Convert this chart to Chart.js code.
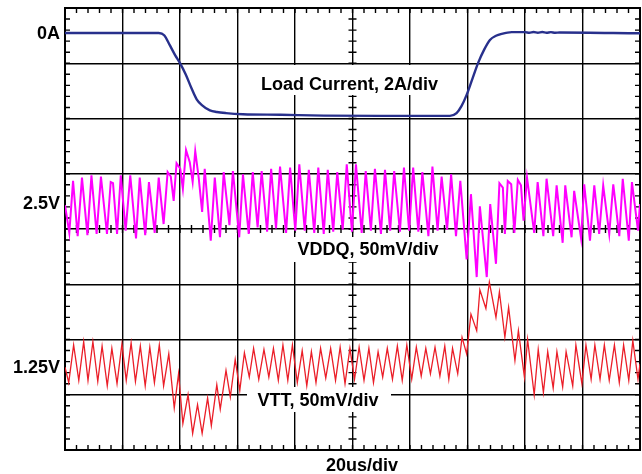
<!DOCTYPE html>
<html>
<head>
<meta charset="utf-8">
<script src="https://cdn.jsdelivr.net/npm/chart.js@4"></script>
<style>
    html, body { margin: 0; padding: 0; background: #fff; }
    #wrap { width: 642px; height: 474px; }
</style>
</head>
<body>
<div id="wrap"><canvas id="scopeChart"></canvas></div>
<script>
// time base: 20us/div, 10 divisions
const loadTimeUs = [0, 32.6, 34.5, 36.5, 38.3, 40.0, 42.0, 44.0, 45.8, 47.5, 50.4, 52.8, 56.0, 61.9, 75.0, 90.0, 110.0,
    133.9, 136.2, 137.9, 139.7, 141.7, 143.7, 145.8, 147.8, 149.9, 151.9, 155.4, 160.0, 161.5, 163.0, 164.5, 166.0,
    167.5, 169.0, 170.5, 172.0, 200];
const loadAmps = [0, 0, -0.08, -0.45, -0.8, -1.09, -1.5, -2.0, -2.4, -2.6, -2.8, -2.86, -2.9, -2.94, -2.96, -2.99, -3.0,
    -3.0, -2.9, -2.65, -2.24, -1.66, -1.08, -0.6, -0.25, -0.1, -0.03, 0.03, 0.03, 0.01, 0.035, 0.01, 0.035,
    0.01, 0.03, 0.01, 0.02, -0.01];

const vddqTimeUs = [0, 1.5, 2.8, 4.4, 5.9, 7.8, 9.2, 11.0, 12.5, 14.6, 15.9, 16.7, 18.1, 19.4, 21.1, 22.7, 24.7, 26.0,
    27.9, 29.2, 31.2, 32.6, 34.3, 35.7, 36.8, 37.8, 38.8, 40.1, 41.0, 42.1, 43.4, 44.4, 45.3, 46.5, 47.7, 48.6, 50.7,
    52.1, 53.9, 55.2, 57.2, 58.4, 60.6, 61.9, 63.9, 65.3,
    67.0, 68.4, 70.3, 71.7, 73.4, 74.8, 76.9, 78.3, 80.1, 81.5, 83.4, 84.8, 86.7, 88.1, 90.0, 91.4, 93.3, 94.7, 96.6,
    98.0, 99.8, 101.2, 103.2, 104.6, 106.4, 107.8, 109.9, 111.3, 113.1, 114.5, 116.5, 117.9, 119.7, 121.1, 122.9,
    124.3, 126.4, 127.8, 129.6, 131.0,
    132.9, 134.3, 136.0, 137.5, 139.7, 141.2, 143.2, 144.3, 146.7, 147.9, 149.9, 151.1, 152.3, 153.0, 154.0, 155.2,
    156.3, 157.5, 158.6, 159.5, 160.7, 163.2, 164.4, 166.4, 167.5, 169.8, 171.0, 173.1, 174.0, 176.2, 177.1, 179.5,
    180.6, 182.6, 184.1, 185.8, 187.2, 189.3, 190.7, 192.8, 194.0, 196.1, 197.2, 199.3, 200];
const vddqMv = [2498, 2473, 2520, 2470, 2523, 2471, 2525, 2472, 2524, 2472, 2519, 2518, 2472, 2525, 2475, 2525, 2468, 2523,
    2471, 2519, 2473, 2523, 2481, 2528, 2524, 2502, 2536, 2531, 2513, 2548, 2537, 2519, 2547, 2523, 2492, 2531, 2466,
    2523, 2469, 2528, 2480, 2529, 2469, 2526, 2472, 2528,
    2478, 2529, 2474, 2531, 2477, 2533, 2473, 2532, 2475, 2535, 2475, 2530, 2473, 2532, 2472, 2530, 2474, 2528, 2476,
    2535, 2474, 2535, 2473, 2529, 2475, 2531, 2472, 2530, 2475, 2529, 2474, 2532, 2475, 2532, 2474,
    2528, 2470, 2533, 2475, 2524,
    2476, 2526, 2470, 2520, 2449, 2508, 2433, 2497, 2433, 2499, 2445, 2518, 2514, 2472, 2520, 2517,
    2473, 2521, 2516, 2484, 2523, 2473, 2519, 2470, 2522, 2470, 2516, 2464, 2516, 2469, 2511, 2468,
    2517, 2466, 2516, 2472, 2516, 2472, 2517, 2470, 2522, 2466, 2519, 2475, 2499];

const vttTimeUs = [0, 1.3, 3.0, 4.8, 6.5, 8.0, 9.7, 11.4, 12.9, 14.7, 16.3, 18.1, 19.8, 21.3, 23.0, 24.5, 26.2, 27.9,
    29.5, 31.1, 32.8, 34.3, 36.1, 38.0, 39.5, 41.0, 42.8, 44.4, 46.1, 47.7, 49.6, 50.9, 52.8, 54.0, 56.0, 57.5, 59.2,
    60.8, 62.4, 64.1, 65.6,
    67.4, 69.2, 70.9, 72.5, 74.2, 75.8, 77.5, 79.1, 80.8, 82.5, 84.1, 85.7, 87.3, 88.9, 90.7, 92.4, 94.1, 95.7, 97.4,
    99.1, 100.7, 102.3, 104.0, 105.7, 107.3, 108.9, 110.5, 112.1, 113.9, 115.6, 117.3, 118.9, 120.6, 122.2, 123.9,
    125.5, 127.1, 128.7, 130.4, 132.1,
    133.5, 134.8, 136.6, 138.1, 139.7, 141.2, 143.2, 144.3, 146.4, 147.6, 149.9, 151.1, 153.0, 154.3, 156.5, 157.7,
    159.8, 160.9, 163.2, 164.6, 166.4, 167.9, 169.8, 171.1, 173.1, 174.3, 176.6, 177.7, 179.8, 181.2, 183.0, 184.3,
    186.1, 187.6, 189.3, 191.1, 192.8, 194.3, 196.1, 197.5, 199.3, 200];
const vttMv = [1250, 1236, 1270, 1238, 1273, 1238, 1273, 1237, 1269, 1233, 1267, 1235, 1271, 1238, 1272, 1237, 1269, 1233,
    1268, 1236, 1270, 1233, 1262, 1213, 1244, 1199, 1225, 1190, 1216, 1190, 1222, 1197, 1234, 1212, 1247, 1223, 1257,
    1229, 1263, 1241, 1267,
    1239, 1266, 1241, 1267, 1238, 1270, 1238, 1270, 1236, 1265, 1233, 1264, 1236, 1267, 1240, 1267, 1238, 1268, 1235,
    1267, 1239, 1268, 1238, 1267, 1236, 1264, 1241, 1267, 1239, 1269, 1238, 1270, 1239, 1268, 1242,
    1267, 1244, 1268, 1242, 1269,
    1239, 1267, 1244, 1277, 1262, 1298, 1283, 1320, 1303, 1327, 1295, 1318, 1277, 1304, 1256, 1283,
    1241, 1275, 1225, 1266, 1227, 1264, 1231, 1264, 1232, 1264, 1233, 1270, 1235, 1270, 1239, 1270,
    1239, 1270, 1238, 1270, 1236, 1270, 1238, 1274, 1239, 1253];

// reference levels shown on the left
const refLabels = ['0A', '2.5V', '1.25V'];
const refValues = [0, 2500, 1250];
const refAxes = ['yI', 'yQ', 'yT'];

const traceLabels = ['Load Current, 2A/div', 'VDDQ, 50mV/div', 'VTT, 50mV/div'];
const timeLabel = '20us/div';

const FONT = 'bold 18px "Liberation Sans", Arial, sans-serif';

function toPoints(times, values) {
    return times.map((t, i) => ({ x: t, y: values[i] }));
}

const scopeDecor = {
    id: 'scopeDecor',
    beforeDatasetsDraw(chart) {
        const { ctx, chartArea: a, scales: { x, y } } = chart;
        const xc = x.getPixelForValue(100);
        const yc = y.getPixelForValue(4);
        ctx.save();
        ctx.strokeStyle = '#000';
        ctx.lineWidth = 1.4;
        ctx.beginPath();
        for (let t = 4; t < 200; t += 4) {
            const px = x.getPixelForValue(t);
            ctx.moveTo(px, a.top); ctx.lineTo(px, a.top + 5);
            ctx.moveTo(px, a.bottom); ctx.lineTo(px, a.bottom - 5);
            ctx.moveTo(px, yc - 4); ctx.lineTo(px, yc + 4);
        }
        for (let v = 0.2; v < 7.99; v += 0.2) {
            const py = y.getPixelForValue(v);
            ctx.moveTo(a.left, py); ctx.lineTo(a.left + 5, py);
            ctx.moveTo(a.right, py); ctx.lineTo(a.right - 5, py);
            ctx.moveTo(xc - 4, py); ctx.lineTo(xc + 4, py);
        }
        ctx.stroke();
        ctx.lineWidth = 2;
        ctx.strokeRect(a.left, a.top, a.right - a.left, a.bottom - a.top);

        // trace captions on white boxes
        const boxes = [
            { x: 261, y: 90, bx: 251, by: 65, bw: 201, bh: 30 },
            { x: 297.5, y: 254.5, bx: 287, by: 237, bw: 165, bh: 25 },
            { x: 257.5, y: 406, bx: 247, by: 387, bw: 144, bh: 25 }
        ];
        ctx.font = FONT;
        ctx.textBaseline = 'alphabetic';
        ctx.textAlign = 'left';
        boxes.forEach((b, i) => {
            ctx.fillStyle = '#fff';
            ctx.fillRect(b.bx, b.by, b.bw, b.bh);
            ctx.fillStyle = '#000';
            ctx.fillText(traceLabels[i], b.x, b.y);
        });
        ctx.restore();
    },
    afterDraw(chart) {
        const { ctx } = chart;
        ctx.save();
        ctx.font = FONT;
        ctx.fillStyle = '#000';
        ctx.textBaseline = 'alphabetic';
        ctx.textAlign = 'right';
        refLabels.forEach((lab, i) => {
            const py = chart.scales[refAxes[i]].getPixelForValue(refValues[i]);
            ctx.fillText(lab, 60, py + 6);
        });
        ctx.textAlign = 'left';
        ctx.fillText(timeLabel, 326, 471);
        ctx.restore();
    }
};

const ctx = document.getElementById('scopeChart').getContext('2d');
const scopeChart = new Chart(ctx, {
    type: 'line',
    data: {
        datasets: [
            {
                label: 'Load Current',
                data: toPoints(loadTimeUs, loadAmps),
                yAxisID: 'yI',
                borderColor: 'rgb(40, 48, 140)',
                borderWidth: 2.4,
                pointRadius: 0,
                cubicInterpolationMode: 'monotone',
                fill: false
            },
            {
                label: 'VDDQ',
                data: toPoints(vddqTimeUs, vddqMv),
                yAxisID: 'yQ',
                borderColor: '#ff00ff',
                borderWidth: 2,
                pointRadius: 0,
                tension: 0,
                fill: false
            },
            {
                label: 'VTT',
                data: toPoints(vttTimeUs, vttMv),
                yAxisID: 'yT',
                borderColor: 'rgb(235, 30, 40)',
                borderWidth: 1.3,
                pointRadius: 0,
                tension: 0,
                fill: false
            }
        ]
    },
    options: {
        responsive: true,
        maintainAspectRatio: false,
        animation: false,
        devicePixelRatio: 1,
        layout: {
            padding: { left: 65, right: 2, top: 8, bottom: 24 }
        },
        scales: {
            x: {
                type: 'linear',
                min: 0,
                max: 200,
                ticks: { display: false, stepSize: 20 },
                grid: { color: '#000', lineWidth: 1.4, drawTicks: false },
                border: { display: false },
                afterFit: function (scale) { scale.height = 0; }
            },
            y: {
                type: 'linear',
                position: 'left',
                min: 0,
                max: 8,
                ticks: { display: false, stepSize: 1 },
                grid: { color: '#000', lineWidth: 1.4, drawTicks: false },
                border: { display: false },
                afterFit: function (scale) { scale.width = 0; }
            },
            yI: { display: false, min: -15.095, max: 0.905 },
            yQ: { display: false, min: 2276.5, max: 2676.5 },
            yT: { display: false, min: 1175, max: 1575 }
        },
        plugins: {
            legend: { display: false },
            tooltip: { enabled: false }
        }
    },
    plugins: [scopeDecor]
});
</script>
</body>
</html>
